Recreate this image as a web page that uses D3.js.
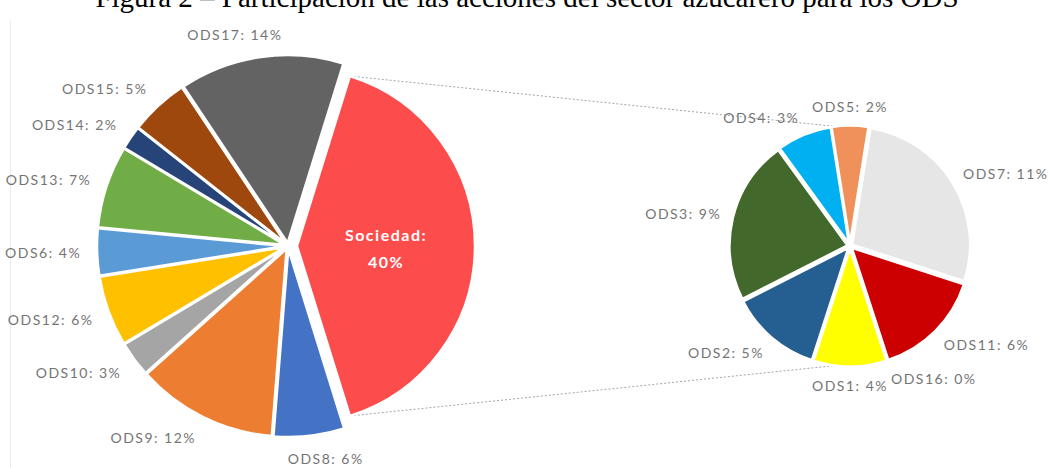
<!DOCTYPE html>
<html>
<head>
<meta charset="utf-8">
<script src="https://cdn.jsdelivr.net/npm/d3@7"></script>
<style>
  html, body { margin: 0; padding: 0; background: #fff; }
  svg { display: block; }
</style>
</head>
<body>
<svg id="chart" width="1055" height="468"></svg>
<script>
// Main pie: "Sociedad" groups the ODS shown in the secondary pie
const mainCategories = ["Sociedad", "ODS8", "ODS9", "ODS10", "ODS12", "ODS6", "ODS13", "ODS14", "ODS15", "ODS17"];
const mainValues     = [40, 6, 12, 3, 6, 4, 7, 2, 5, 14];
const mainColors     = ["#fd4c4c", "#4472c4", "#ed7d31", "#a5a5a5", "#ffc000", "#5b9bd5", "#70ad47", "#264478", "#9e480e", "#636363"];

// Secondary pie: breakdown of "Sociedad"
const subCategories = ["ODS7", "ODS11", "ODS16", "ODS1", "ODS2", "ODS3", "ODS4", "ODS5"];
const subValues     = [11, 6, 0, 4, 5, 9, 3, 2];
const subColors     = ["#e7e6e6", "#cc0000", "#7f7f7f", "#ffff00", "#255e91", "#43682b", "#00b0f0", "#f0905a"];

const titleText = "Figura 2 \u2013 Participaci\u00f3n de las acciones del sector azucarero para los ODS";

const svg = d3.select("#chart");
const labelFont = "Lato, 'Open Sans', sans-serif";

// faint frame edge on the left
svg.append("line")
  .attr("x1", 10.5).attr("x2", 10.5).attr("y1", 20).attr("y2", 468)
  .attr("stroke", "#ececec").attr("stroke-width", 1);

// title (partly clipped by the top edge)
svg.append("text")
  .attr("x", 527).attr("y", 7)
  .attr("text-anchor", "middle")
  .attr("font-family", "'Liberation Serif', 'Times New Roman', serif")
  .attr("font-size", 29)
  .attr("fill", "#000")
  .text(titleText);

// ---------- geometry ----------
const main = { cx: 288, cy: 246, r: 188, explode: 3, groupR: 178, groupExplode: 9, gap: 16 };
const sub  = { cx: 850, cy: 246, r: 118, explode: 2.5, gap: 12 };
const labelHalfHeight = 7;

const mainTotal = d3.sum(mainValues);
// the grouped slice is centred on the right-hand side (pointing to the secondary pie)
const mainStart = Math.PI / 2 - Math.PI * mainValues[0] / mainTotal;
const mainPie = d3.pie().sort(null).value(d => d)
  .startAngle(mainStart).endAngle(mainStart + 2 * Math.PI);
const mainArcs = mainPie(mainValues);

const subStart = 9 * Math.PI / 180;
const subPie = d3.pie().sort(null).value(d => d)
  .startAngle(subStart).endAngle(subStart + 2 * Math.PI);
const subArcs = subPie(subValues);

const mid = d => (d.startAngle + d.endAngle) / 2;
const offset = (a, dist) => [dist * Math.sin(a), -dist * Math.cos(a)];

// ---------- connector lines ----------
const gArc = mainArcs[0];
const gc = offset(mid(gArc), main.groupExplode);
const gTop = offset(gArc.startAngle, main.groupR);
const gBot = offset(gArc.endAngle, main.groupR);
const connectors = [
  [[main.cx + gc[0] + gTop[0], main.cy + gc[1] + gTop[1]], [sub.cx, sub.cy - sub.r]],
  [[main.cx + gc[0] + gBot[0], main.cy + gc[1] + gBot[1]], [sub.cx, sub.cy + sub.r]]
];
svg.append("g").selectAll("line").data(connectors).join("line")
  .attr("x1", d => d[0][0]).attr("y1", d => d[0][1])
  .attr("x2", d => d[1][0]).attr("y2", d => d[1][1])
  .attr("stroke", "#a6a6a6").attr("stroke-width", 1)
  .attr("stroke-dasharray", "2,2");

// ---------- main pie ----------
const gMain = svg.append("g").attr("transform", `translate(${main.cx},${main.cy})`);
const arcMain = d3.arc().innerRadius(0).outerRadius(main.r);
const arcGroup = d3.arc().innerRadius(0).outerRadius(main.groupR);

gMain.selectAll("path").data(mainArcs).join("path")
  .attr("transform", (d, i) => {
    const o = offset(mid(d), i === 0 ? main.groupExplode : main.explode);
    return `translate(${o[0]},${o[1]})`;
  })
  .attr("d", (d, i) => i === 0 ? arcGroup(d) : arcMain(d))
  .attr("fill", (d, i) => mainColors[i])
  .attr("stroke", "#fff").attr("stroke-width", 2.5).attr("stroke-linejoin", "round");

// label inside the grouped slice
const gCentroid = arcGroup.centroid(gArc);
const gLabel = gMain.append("text")
  .attr("transform", `translate(${gCentroid[0] + gc[0]},${gCentroid[1] + gc[1]})`)
  .attr("text-anchor", "middle")
  .attr("font-family", labelFont)
  .attr("font-size", 16).attr("font-weight", "bold")
  .attr("letter-spacing", 1.5)
  .attr("fill", "#fff");
gLabel.append("tspan").attr("x", 0).attr("y", -5).text(mainCategories[0] + ":");
gLabel.append("tspan").attr("x", 0).attr("y", 22).text(mainValues[0] + "%");

// ---------- secondary pie ----------
const gSub = svg.append("g").attr("transform", `translate(${sub.cx},${sub.cy})`);
const arcSub = d3.arc().innerRadius(0).outerRadius(sub.r);
gSub.selectAll("path").data(subArcs).join("path")
  .attr("transform", d => {
    const o = offset(mid(d), sub.explode);
    return `translate(${o[0]},${o[1]})`;
  })
  .attr("d", arcSub)
  .attr("fill", (d, i) => subColors[i])
  .attr("stroke", "#fff").attr("stroke-width", 2.5).attr("stroke-linejoin", "round");

// ---------- outside labels: box edge placed just beyond the rim ----------
function outsideLabels(g, arcs, names, values, radius) {
  const items = arcs.map((d, i) => ({ d, text: `${names[i]}: ${values[i]}%` }));
  g.selectAll("text.lbl").data(items).join("text")
    .attr("class", "lbl")
    .attr("text-anchor", "middle")
    .attr("dominant-baseline", "central")
    .attr("font-family", labelFont)
    .attr("font-size", 14)
    .attr("letter-spacing", 1.5)
    .attr("fill", "#747474")
    .text(d => d.text)
    .each(function (d) {
      const a = mid(d.d);
      const p = offset(a, radius);
      const w = this.getComputedTextLength();
      const k = Math.max(-1, Math.min(1, Math.sin(a) * 3.5));
      d3.select(this)
        .attr("x", p[0] + k * w / 2)
        .attr("y", p[1] - Math.cos(a) * labelHalfHeight);
    });
}

outsideLabels(gMain, mainArcs.slice(1), mainCategories.slice(1), mainValues.slice(1), main.r + main.explode + main.gap);
outsideLabels(gSub, subArcs, subCategories, subValues, sub.r + sub.explode + sub.gap);
</script>
</body>
</html>
